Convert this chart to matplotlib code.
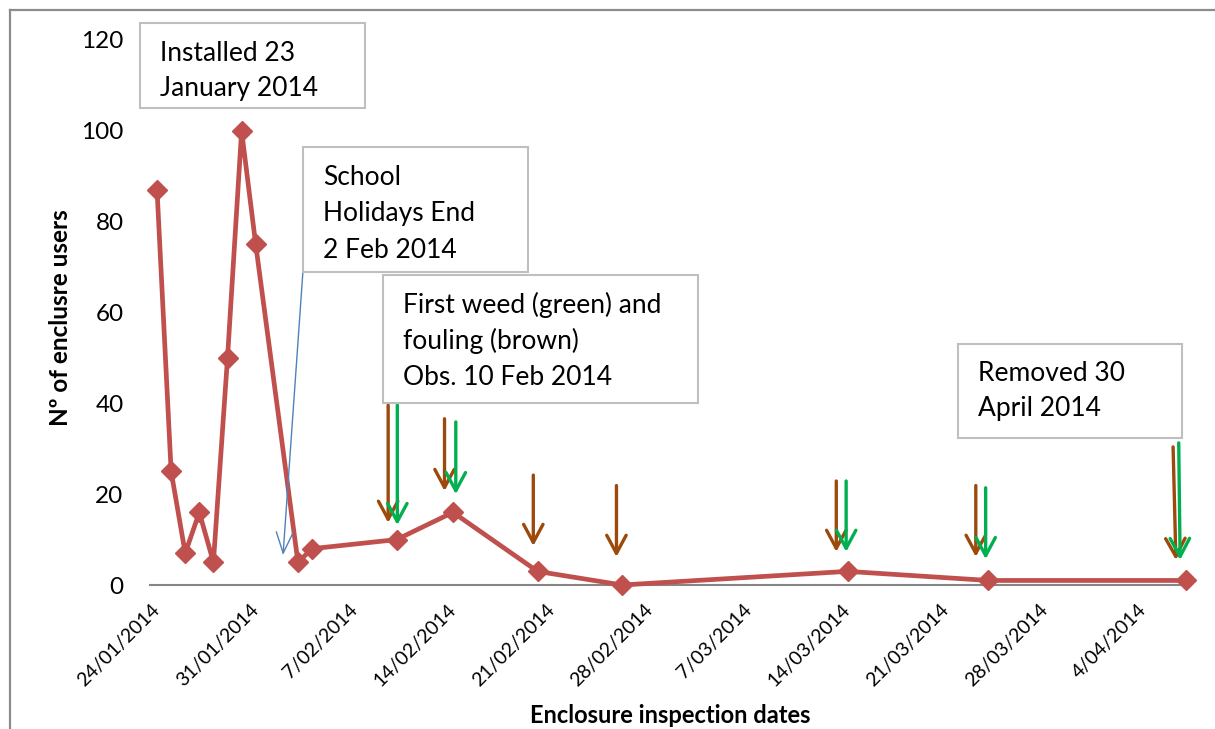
import datetime as dt
import matplotlib
matplotlib.use("Agg")
import matplotlib.pyplot as plt
from matplotlib.patches import Rectangle
from matplotlib.lines import Line2D

plt.rcParams['font.family'] = ['Lato', 'DejaVu Sans']

# ---- data ----
dates = ["2014-01-24", "2014-01-25", "2014-01-26", "2014-01-27", "2014-01-28",
         "2014-01-29", "2014-01-30", "2014-01-31", "2014-02-03", "2014-02-04",
         "2014-02-10", "2014-02-14", "2014-02-20", "2014-02-26", "2014-03-14",
         "2014-03-24", "2014-04-07"]
users = [87, 25, 7, 16, 5, 50, 100, 75, 5, 8, 10, 16, 3, 0, 3, 1, 1]

tick_dates = ["2014-01-24", "2014-01-31", "2014-02-07", "2014-02-14", "2014-02-21",
              "2014-02-28", "2014-03-07", "2014-03-14", "2014-03-21", "2014-03-28",
              "2014-04-04"]
y_ticks = [0, 20, 40, 60, 80, 100, 120]

# annotation arrows: (day offset from 24/01 at top, top value, day offset at tip, tip value)
brown_arrows = [(16.4, 39.6, 16.4, 13.7), (20.4, 36.6, 20.4, 20.7), (26.7, 24.2, 26.7, 8.6),
                (32.6, 21.9, 32.6, 6.2), (48.2, 22.9, 48.2, 7.3), (58.1, 21.9, 58.1, 6.2),
                (72.1, 30.4, 72.3, 5.5)]
green_arrows = [(17.05, 39.6, 17.05, 13.2), (21.2, 35.9, 21.2, 20.0), (48.9, 22.9, 48.9, 7.3),
                (58.8, 21.4, 58.8, 5.7), (72.5, 31.3, 72.6, 5.5)]

# ---- figure ----
W, H = 1215, 729
fig = plt.figure(figsize=(W / 100, H / 100), dpi=100)
fig.patch.set_facecolor("white")

def fx(px):
    return px / W

def fy(py):
    return 1 - py / H

ax_l, ax_r, ax_t, ax_b = 150, 1190, 40, 585
ax = fig.add_axes([fx(ax_l), fy(ax_b), fx(ax_r) - fx(ax_l), fy(ax_t) - fy(ax_b)])

x = [dt.datetime.strptime(d, "%Y-%m-%d") for d in dates]
base = x[0]
ax.plot(x, users, color="#C0504D", lw=3.4, marker="D", markersize=10,
        markerfacecolor="#C0504D", markeredgecolor="#C0504D", zorder=3, clip_on=False)

ax.set_xlim(base - dt.timedelta(days=0.5), base + dt.timedelta(days=73.3))
ax.set_ylim(0, 120)

ticks = [dt.datetime.strptime(d, "%Y-%m-%d") for d in tick_dates]
ax.set_xticks(ticks)
ax.set_xticklabels([f"{t.day}/{t.month:02d}/{t.year}" for t in ticks],
                   rotation=45, ha="right", va="center", rotation_mode="anchor", fontsize=14)
ax.set_yticks(y_ticks)
ax.set_yticklabels([str(v) for v in y_ticks], fontsize=17.5)
ax.tick_params(axis="y", length=0, pad=19)
ax.tick_params(axis="x", length=0, pad=16)

for s in ["top", "right", "left"]:
    ax.spines[s].set_visible(False)
ax.spines["bottom"].set_color("#868686")
ax.spines["bottom"].set_linewidth(1.5)

ax.set_xlabel("Enclosure inspection dates", fontsize=17, fontweight="bold")
ax.xaxis.set_label_coords(0.5, (ax_b - 704) / (ax_b - ax_t))
ax.set_ylabel("Nº of enclusre users", fontsize=17.5, fontweight="bold")
ax.yaxis.set_label_coords((72 - ax_l) / (ax_r - ax_l), 0.49)

def day(d):
    return base + dt.timedelta(days=d)

for (x0, y0, x1, y1), col in [(a, "#9C4A0B") for a in brown_arrows] + \
                             [(a, "#00B050") for a in green_arrows]:
    ax.annotate("", xy=(day(x1), y1), xytext=(day(x0), y0),
                arrowprops=dict(arrowstyle="->,head_length=1.3,head_width=0.7",
                                color=col, lw=2.4, shrinkA=0, shrinkB=0),
                zorder=4)

# blue pointer from School Holidays box
ax.annotate("", xy=(day(8.94), 6.6), xytext=(day(10.36), 69.4),
            arrowprops=dict(arrowstyle="->,head_length=1.5,head_width=0.6",
                            color="#4F81BD", lw=1.0, shrinkA=0, shrinkB=0),
            zorder=4)

# ---- text boxes (pixel layout) ----
boxes = [
    (140, 23, 365, 108, 160, ["Installed 23", "January 2014"], 61, 35),
    (303, 147, 528, 272, 323, ["School", "Holidays End", "2 Feb 2014"], 185, 36.5),
    (383, 275, 698, 403, 403, ["First weed (green) and", "fouling (brown)", "Obs. 10 Feb 2014"], 313, 36),
    (958, 344, 1182, 438, 978, ["Removed 30", "April 2014"], 381, 35),
]
for (x0, y0, x1, y1, tx, lines, base_y, step) in boxes:
    fig.patches.append(Rectangle((fx(x0), fy(y1)), fx(x1) - fx(x0), fy(y0) - fy(y1),
                                 transform=fig.transFigure, facecolor="white",
                                 edgecolor="#BFBFBF", lw=1.5, zorder=10))
    for i, ln in enumerate(lines):
        fig.text(fx(tx), fy(base_y + i * step), ln, fontsize=19, ha="left",
                 va="baseline", color="black", zorder=11)

# outer chart border (top and left visible)
fig.add_artist(Line2D([fx(10), 1], [fy(10), fy(10)], transform=fig.transFigure,
                      color="#8C8C8C", lw=1.6))
fig.add_artist(Line2D([fx(10), fx(10)], [fy(10), 0], transform=fig.transFigure,
                      color="#8C8C8C", lw=1.6))

fig.savefig("out.png", dpi=100, facecolor="white")
